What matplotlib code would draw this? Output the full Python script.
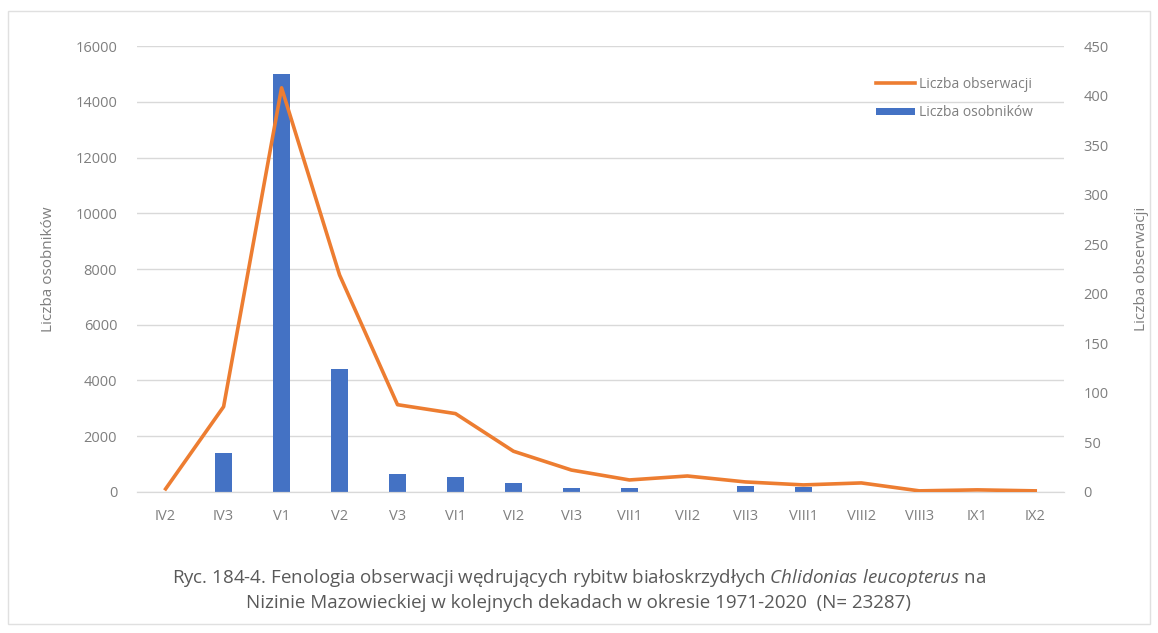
import matplotlib
matplotlib.use("Agg")
import matplotlib.pyplot as plt
from matplotlib.patches import Rectangle

# decades (month + decade number)
categories = ["IV2", "IV3", "V1", "V2", "V3", "VI1", "VI2", "VI3",
              "VII1", "VII2", "VII3", "VIII1", "VIII2", "VIII3", "IX1", "IX2"]
# number of individuals (left axis, bars)
individuals = [0, 1400, 15000, 4400, 650, 550, 320, 130,
               130, 0, 200, 170, 0, 0, 0, 0]
# number of observations (right axis, line)
observations = [3, 86, 408, 219, 88, 79, 41, 22,
                12, 16, 10, 7, 9, 1, 2, 1]

left_ticks = [0, 2000, 4000, 6000, 8000, 10000, 12000, 14000, 16000]
right_ticks = [0, 50, 100, 150, 200, 250, 300, 350, 400, 450]

BLUE = "#4472C4"
ORANGE = "#ED7D31"
TEXT = "#7F7F7F"
GRID = "#D9D9D9"

plt.rcParams["font.family"] = ["Open Sans", "DejaVu Sans"]
plt.rcParams["mathtext.fontset"] = "custom"
plt.rcParams["mathtext.it"] = "Open Sans:italic"
plt.rcParams["mathtext.rm"] = "Open Sans"

fig = plt.figure(figsize=(11.58, 6.33), dpi=100)
ax = fig.add_axes([0.118, 0.223, 0.801, 0.704])
ax2 = ax.twinx()

x = list(range(len(categories)))
ax.bar(x, individuals, width=0.3, color=BLUE, label="Liczba osobników", zorder=2)
ax2.plot(x, observations, color=ORANGE, linewidth=2.6, label="Liczba obserwacji",
         solid_joinstyle="round", zorder=3)

ax.set_xlim(-0.5, len(categories) - 0.5)
ax.set_ylim(0, 16000)
ax2.set_ylim(0, 450)
ax.set_yticks(left_ticks)
ax2.set_yticks(right_ticks)
ax.set_xticks(x)
ax.set_xticklabels(categories)

ax.grid(axis="y", color=GRID, linewidth=1.0, zorder=0)
ax.set_axisbelow(True)
for a in (ax, ax2):
    for side in ("top", "right", "left"):
        a.spines[side].set_visible(False)
    a.spines["bottom"].set_color(GRID)
    a.tick_params(length=0, colors=TEXT, labelsize=10.5)
ax.tick_params(axis="x", pad=12)
ax.tick_params(axis="y", pad=14)
ax2.tick_params(axis="y", pad=14)

ax.set_ylabel("Liczba osobników", color=TEXT, fontsize=11, labelpad=14)
ax2.set_ylabel("Liczba obserwacji", color=TEXT, fontsize=11, rotation=90, labelpad=18)

handles = [ax2.get_lines()[0], ax.patches[0]]
ax2.legend(handles, ["Liczba obserwacji", "Liczba osobników"],
           loc="upper right", bbox_to_anchor=(0.98, 0.96), frameon=False,
           fontsize=10, labelcolor=TEXT, handlelength=2.8, handleheight=0.5,
           labelspacing=1.0, handletextpad=0.3)

fig.text(0.5, 0.087,
         "Ryc. 184-4. Fenologia obserwacji wędrujących rybitw białoskrzydłych "
         "$\\it{Chlidonias\\ leucopterus}$ na",
         ha="center", va="center", color="#595959", fontsize=13.5)
fig.text(0.5, 0.047,
         "Nizinie Mazowieckiej w kolejnych dekadach w okresie 1971-2020  (N= 23287)",
         ha="center", va="center", color="#595959", fontsize=13.5)

fig.patches.append(Rectangle((0.007, 0.015), 0.986, 0.968, transform=fig.transFigure,
                             fill=False, edgecolor="#E0E0E0", linewidth=1.0))

fig.savefig("out.png", dpi=100)
